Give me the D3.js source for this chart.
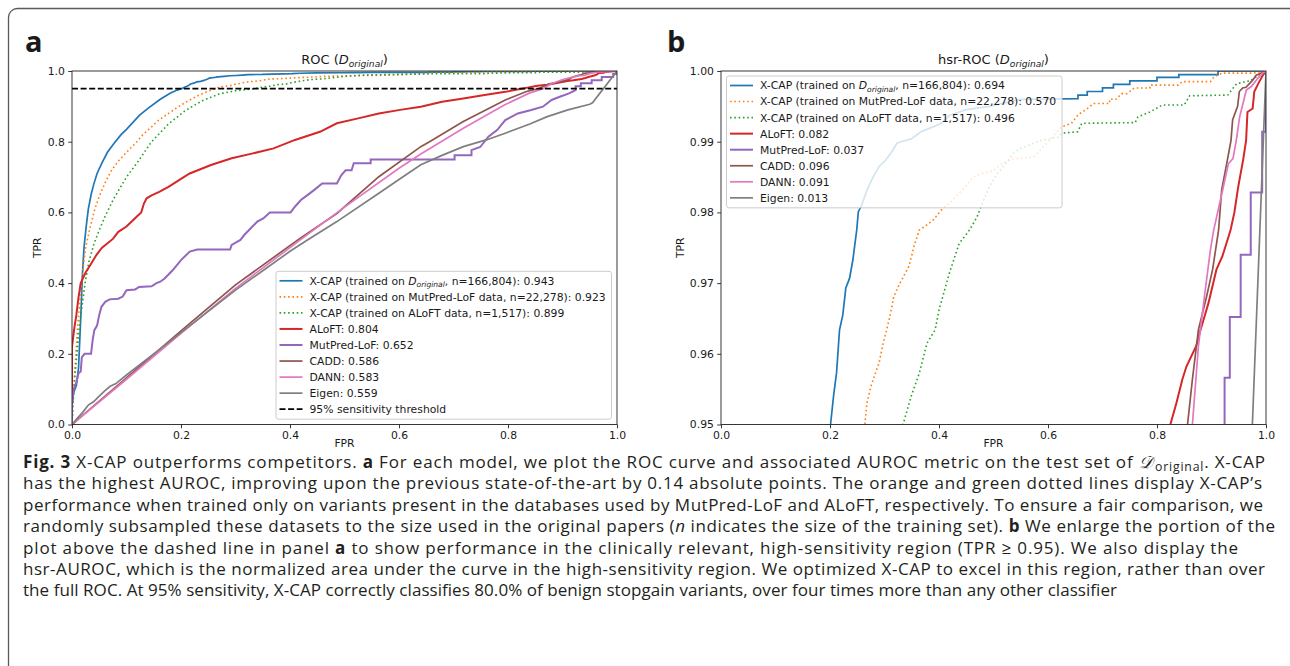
<!DOCTYPE html>
<html>
<head>
<meta charset="utf-8">
<script src="https://cdn.jsdelivr.net/npm/d3@7"></script>
<style>
  body { margin: 0; background: #fff; }
  svg text { font-family: "DejaVu Sans", sans-serif; fill: #1a1a1a; }
  svg text.cap { font-family: "Open Sans", "Noto Sans", sans-serif; fill: #231f20; }
</style>
</head>
<body>
<svg id="fig" width="1290" height="666"></svg>
<script>
// ROC points [FPR, TPR] (upper part)
const xcapOrig = [[0,0],[0,0.05],[0.003,0.09],[0.008,0.11],[0.012,0.16],[0.016,0.3],[0.019,0.42],[0.022,0.5],[0.026,0.56],[0.03,0.61],[0.035,0.65],[0.04,0.68],[0.046,0.71],[0.055,0.74],[0.065,0.77],[0.077,0.795],[0.09,0.82],[0.1,0.835],[0.124,0.875],[0.14,0.895],[0.162,0.92],[0.18,0.937],[0.193,0.946],
  [0.201,0.95],[0.2065,0.954],[0.212,0.9573],[0.2175,0.9634],[0.2235,0.9655],[0.229,0.9693],[0.236,0.9707],[0.242,0.9733],[0.249,0.9775],[0.252,0.9801],[0.258,0.981],[0.268,0.9832],[0.279,0.985],[0.29,0.9865],[0.301,0.9873],[0.312,0.9884],[0.323,0.9898],[0.33,0.99],[0.349,0.9904],[0.367,0.9914],[0.389,0.9921],[0.404,0.9926],[0.419,0.9937],[0.448,0.9945],[0.492,0.995],[0.515,0.9954],[0.551,0.996],[0.655,0.9961],[0.655,0.9966],[0.672,0.9966],[0.672,0.9971],[0.7,0.9971],[0.7,0.9976],[0.72,0.9976],[0.72,0.9981],[0.75,0.9981],[0.75,0.9986],[0.8,0.9986],[0.8,0.9991],[0.84,0.9991],[0.84,0.9995],[0.912,0.9995],[0.912,1],[1,1]];
const xcapMutPred = [[0,0],[0.001,0.04],[0.003,0.1],[0.006,0.17],[0.01,0.27],[0.015,0.36],[0.02,0.44],[0.025,0.5],[0.032,0.55],[0.042,0.61],[0.05,0.645],[0.061,0.685],[0.072,0.718],[0.085,0.745],[0.1,0.77],[0.116,0.795],[0.13,0.82],[0.146,0.842],[0.16,0.862],[0.177,0.88],[0.196,0.9],[0.216,0.918],[0.235,0.933],[0.25,0.943],
  [0.264,0.95],[0.2677,0.953],[0.275,0.9554],[0.29,0.9587],[0.297,0.9613],[0.31,0.9653],[0.317,0.9681],[0.327,0.9698],[0.345,0.9724],[0.354,0.9752],[0.364,0.9775],[0.374,0.978],[0.389,0.9789],[0.404,0.9803],[0.419,0.9813],[0.448,0.9836],[0.463,0.985],[0.478,0.9855],[0.5,0.9859],[0.515,0.9869],[0.537,0.9876],[0.573,0.9878],[0.603,0.9902],[0.614,0.9912],[0.625,0.9921],[0.643,0.9926],[0.655,0.9938],[0.669,0.9945],[0.684,0.9954],[0.713,0.9954],[0.713,0.996],[0.725,0.996],[0.735,0.9968],[0.745,0.9968],[0.758,0.9976],[0.787,0.9976],[0.787,0.998],[0.839,0.998],[0.846,0.9985],[0.898,0.9985],[0.905,0.9992],[0.92,0.9997],[0.975,0.9997],[1,1]];
const xcapAloft = [[0,0],[0.002,0.06],[0.005,0.13],[0.009,0.2],[0.013,0.27],[0.018,0.33],[0.024,0.4],[0.031,0.46],[0.04,0.51],[0.05,0.55],[0.061,0.59],[0.077,0.64],[0.1,0.7],[0.123,0.748],[0.146,0.8],[0.177,0.85],[0.208,0.888],[0.239,0.916],[0.27,0.935],[0.3,0.944],
  [0.334,0.95],[0.349,0.954],[0.364,0.9573],[0.378,0.9615],[0.393,0.9634],[0.4,0.9662],[0.419,0.9714],[0.437,0.9756],[0.456,0.9775],[0.47,0.9794],[0.478,0.981],[0.492,0.9836],[0.507,0.9855],[0.522,0.9869],[0.537,0.9884],[0.551,0.9891],[0.588,0.9902],[0.618,0.9906],[0.625,0.9912],[0.6545,0.9914],[0.662,0.9926],[0.76,0.9927],[0.765,0.9935],[0.787,0.9942],[0.81,0.9952],[0.85,0.9952],[0.86,0.9965],[0.93,0.9966],[0.946,0.9982],[0.97,0.9986],[0.985,0.9993],[1,1]];
const aloft = [[0,0],[0,0.22],[0.004,0.27],[0.008,0.31],[0.012,0.36],[0.016,0.4],[0.025,0.43],[0.035,0.455],[0.045,0.48],[0.055,0.5],[0.063,0.51],[0.075,0.525],[0.085,0.545],[0.1,0.56],[0.11,0.575],[0.12,0.59],[0.127,0.6],[0.132,0.625],[0.137,0.64],[0.146,0.648],[0.16,0.658],[0.177,0.672],[0.2,0.695],[0.216,0.71],[0.255,0.734],[0.293,0.753],[0.332,0.767],[0.37,0.781],[0.409,0.805],[0.455,0.828],[0.486,0.852],[0.525,0.866],[0.563,0.88],[0.602,0.89],[0.64,0.899],[0.679,0.913],[0.718,0.922],[0.757,0.932],[0.795,0.941],
  [0.8245,0.95],[0.8355,0.953],[0.8466,0.9564],[0.854,0.9582],[0.872,0.9611],[0.88,0.9634],[0.8945,0.9672],[0.909,0.9719],[0.92,0.9738],[0.935,0.9775],[0.942,0.98],[0.949,0.9836],[0.953,0.9853],[0.958,0.9874],[0.9635,0.9902],[0.966,0.9942],[0.9755,0.9947],[0.9786,0.9971],[0.9877,0.9985],[0.995,0.9995],[1,1]];
const mutPredLof = [[0,0],[0,0.06],[0.003,0.1],[0.008,0.12],[0.012,0.145],[0.016,0.15],[0.018,0.19],[0.023,0.2],[0.035,0.2],[0.038,0.24],[0.041,0.267],[0.046,0.28],[0.05,0.31],[0.054,0.333],[0.061,0.347],[0.069,0.354],[0.085,0.356],[0.093,0.362],[0.1,0.38],[0.116,0.382],[0.123,0.389],[0.146,0.391],[0.155,0.4],[0.162,0.404],[0.17,0.413],[0.185,0.437],[0.2,0.465],[0.216,0.489],[0.23,0.495],[0.29,0.495],[0.293,0.508],[0.309,0.522],[0.316,0.536],[0.328,0.555],[0.34,0.574],[0.351,0.583],[0.363,0.6],[0.401,0.6],[0.409,0.616],[0.42,0.635],[0.432,0.649],[0.444,0.663],[0.459,0.682],[0.486,0.682],[0.494,0.705],[0.502,0.719],[0.513,0.719],[0.517,0.739],[0.548,0.739],[0.548,0.75],[0.702,0.75],[0.702,0.762],[0.733,0.762],[0.733,0.776],[0.749,0.785],[0.764,0.814],[0.78,0.833],[0.795,0.861],[0.818,0.88],[0.841,0.889],[0.864,0.899],[0.88,0.918],[0.895,0.927],[0.911,0.936],[0.924,0.946],
  [0.924,0.9566],[0.9336,0.9566],[0.9336,0.9652],[0.9535,0.9652],[0.9535,0.974],[0.972,0.974],[0.972,0.9828],[0.993,0.9828],[0.993,0.9914],[1,0.9914],[1,1]];
const cadd = [[0,0],[0.05,0.066],[0.1,0.132],[0.2,0.265],[0.3,0.395],[0.417,0.525],[0.486,0.597],[0.563,0.701],[0.64,0.786],[0.656,0.8],[0.718,0.857],[0.795,0.918],[0.834,0.942],
  [0.856,0.95],[0.865,0.9564],[0.876,0.9634],[0.891,0.9681],[0.902,0.9719],[0.913,0.9775],[0.9187,0.9832],[0.9279,0.9869],[0.9358,0.9902],[0.9388,0.9931],[0.9479,0.995],[0.9511,0.9971],[0.9572,0.9976],[0.9633,0.9977],[0.9755,0.9987],[0.982,0.9994],[0.994,0.9998],[1,1]];
const dann = [[0,0],[0.1,0.128],[0.2,0.258],[0.3,0.385],[0.417,0.52],[0.5,0.615],[0.6,0.725],[0.64,0.765],[0.718,0.838],[0.795,0.905],[0.84,0.938],
  [0.865,0.95],[0.876,0.9611],[0.887,0.9681],[0.898,0.9747],[0.904,0.9775],[0.9206,0.9832],[0.931,0.9869],[0.9394,0.9876],[0.9455,0.9902],[0.9516,0.9935],[0.9578,0.9954],[0.9639,0.9973],[0.9731,0.9978],[0.9853,0.999],[0.994,0.9997],[1,1]];
const eigen = [[0,0],[0.01,0.018],[0.02,0.035],[0.03,0.055],[0.04,0.065],[0.05,0.08],[0.06,0.095],[0.07,0.108],[0.08,0.115],[0.1,0.14],[0.15,0.2],[0.2,0.26],[0.25,0.32],[0.3,0.38],[0.35,0.435],[0.4,0.49],[0.432,0.522],[0.486,0.574],[0.563,0.654],[0.602,0.695],[0.64,0.735],[0.68,0.762],[0.718,0.786],[0.76,0.805],[0.795,0.824],[0.84,0.85],[0.872,0.871],[0.91,0.89],[0.95,0.906],[0.955,0.91],[1,1]];

const modelNames = ["X-CAP (trained on $D$, n=166,804)", "X-CAP (trained on MutPred-LoF data, n=22,278)", "X-CAP (trained on ALoFT data, n=1,517)", "ALoFT", "MutPred-LoF", "CADD", "DANN", "Eigen"];
const aurocFull = [0.943, 0.923, 0.899, 0.804, 0.652, 0.586, 0.583, 0.559];
const aurocHsr = [0.694, 0.570, 0.496, 0.082, 0.037, 0.096, 0.091, 0.013];
const thresholdTpr = 0.95;
const thresholdLabel = "95% sensitivity threshold";

const xTicks = [0, 0.2, 0.4, 0.6, 0.8, 1.0];
const yTicksFull = [0, 0.2, 0.4, 0.6, 0.8, 1.0];
const yTicksHsr = [0.95, 0.96, 0.97, 0.98, 0.99, 1.00];

const captionLines = [
  "**Fig. 3** X-CAP outperforms competitors. **a** For each model, we plot the ROC curve and associated AUROC metric on the test set of {D}. X-CAP",
  "has the highest AUROC, improving upon the previous state-of-the-art by 0.14 absolute points. The orange and green dotted lines display X-CAP\u2019s",
  "performance when trained only on variants present in the databases used by MutPred-LoF and ALoFT, respectively. To ensure a fair comparison, we",
  "randomly subsampled these datasets to the size used in the original papers (_n_ indicates the size of the training set). **b** We enlarge the portion of the",
  "plot above the dashed line in panel **a** to show performance in the clinically relevant, high-sensitivity region (TPR \u2265 0.95). We also display the",
  "hsr-AUROC, which is the normalized area under the curve in the high-sensitivity region. We optimized X-CAP to excel in this region, rather than over",
  "the full ROC. At 95% sensitivity, X-CAP correctly classifies 80.0% of benign stopgain variants, over four times more than any other classifier"
];
// right end of each caption line in the figure
const captionLineEnds = [1265, 1262, 1263, 1275, 1238, 1265, 1117];

// ---- styles
const series = [xcapOrig, xcapMutPred, xcapAloft, aloft, mutPredLof, cadd, dann, eigen];
const colors = ["#1f77b4", "#ff7f0e", "#2ca02c", "#d62728", "#9467bd", "#8c564b", "#e377c2", "#7f7f7f"];
const dashes = [null, "1.6,2.7", "1.6,2.7", null, null, null, null, null];
const widths = [1.7, 1.6, 1.6, 2, 2, 1.7, 1.7, 1.7];
const fs = 10.8;

const svg = d3.select("#fig");

// frame of the figure box
svg.append("path")
  .attr("d", "M8.5,670 V17.5 A9,9 0 0 1 17.5,8.5 H1295")
  .attr("fill", "none").attr("stroke", "#5a5a5a").attr("stroke-width", 1.3);

// panel letters
svg.append("text").attr("x", 25).attr("y", 52).attr("font-size", 29).attr("font-weight", 700)
  .style("font-family", "'Open Sans', sans-serif").text("a");
svg.append("text").attr("x", 667).attr("y", 52).attr("font-size", 29).attr("font-weight", 700)
  .style("font-family", "'Open Sans', sans-serif").text("b");

// text with italic D_original
const richText = (sel, str, size) => {
  const bits = str.split("$D$");
  sel.append("tspan").text(bits[0]);
  if (bits.length > 1) {
    sel.append("tspan").attr("font-style", "italic").text("D");
    sel.append("tspan").attr("font-style", "italic").attr("font-size", size * 0.7).attr("dy", size * 0.22).text("original");
    sel.append("tspan").attr("dy", -size * 0.22).text(bits[1]);
  }
};

const styleLine = (sel, i) => {
  sel.attr("fill", "none").attr("stroke", colors[i]).attr("stroke-width", widths[i]);
  if (dashes[i]) sel.attr("stroke-dasharray", dashes[i]);
};

const renderPanel = opt => {
  const g = svg.append("g").attr("transform", `translate(${opt.left},${opt.top})`);
  const xScale = d3.scaleLinear().domain([0, 1]).range([0, opt.width]);
  const yScale = d3.scaleLinear().domain(opt.yDomain).range([opt.height, 0]);

  const clipId = "clip-" + opt.key;
  g.append("clipPath").attr("id", clipId)
    .append("rect").attr("width", opt.width).attr("height", opt.height);

  const lineGen = d3.line().x(d => xScale(d[0])).y(d => yScale(d[1]));
  const plot = g.append("g").attr("clip-path", `url(#${clipId})`);
  series.forEach((s, i) => {
    plot.append("path").attr("d", lineGen(s)).call(styleLine, i);
  });
  if (opt.threshold) {
    plot.append("path").attr("d", lineGen([[0, thresholdTpr], [1, thresholdTpr]]))
      .attr("fill", "none").attr("stroke", "#000").attr("stroke-width", 1.7).attr("stroke-dasharray", "6,2.6");
  }

  // axes
  const xAxisG = g.append("g").attr("transform", `translate(0,${opt.height})`)
    .call(d3.axisBottom(xScale).tickValues(xTicks).tickFormat(d3.format(".1f")).tickSize(3.8).tickPadding(3.3));
  const yAxisG = g.append("g")
    .call(d3.axisLeft(yScale).tickValues(opt.yTicks).tickFormat(d3.format(opt.yFormat)).tickSize(3.8).tickPadding(3.3));
  [xAxisG, yAxisG].forEach(a => {
    a.select(".domain").remove();
    a.selectAll(".tick line").attr("stroke", "#222").attr("stroke-width", 0.9);
    a.selectAll(".tick text").attr("font-size", fs).attr("fill", "#1a1a1a").style("font-family", "'DejaVu Sans', sans-serif");
  });

  // spines
  g.append("rect").attr("width", opt.width).attr("height", opt.height)
    .attr("fill", "none").attr("stroke", "#222").attr("stroke-width", 0.9);

  // title and axis labels
  g.append("text").attr("x", opt.width / 2).attr("y", -7).attr("text-anchor", "middle")
    .attr("font-size", 13).call(richText, opt.title, 13);
  g.append("text").attr("x", opt.width / 2).attr("y", opt.height + 22).attr("text-anchor", "middle")
    .attr("font-size", fs).text("FPR");
  g.append("text").attr("transform", `translate(${opt.ylabelX},${opt.height / 2}) rotate(-90)`)
    .attr("text-anchor", "middle").attr("font-size", fs).text("TPR");

  // legend
  const rowH = 16.05;
  const entries = modelNames.map((n, i) => ({ label: n + ": " + opt.scores[i].toFixed(3), i }));
  if (opt.threshold) entries.push({ label: thresholdLabel, i: -1 });
  const boxW = 335.5;
  const boxH = (entries.length - 1) * rowH + 19.5;
  const bx = opt.legendAt === "lowerright" ? opt.width - 5.5 - boxW : 5.5;
  const by = opt.legendAt === "lowerright" ? opt.height - 5.3 - boxH : 5;
  const lg = g.append("g").attr("transform", `translate(${bx},${by})`);
  lg.append("rect").attr("width", boxW).attr("height", boxH).attr("rx", 2.5)
    .attr("fill", "#fff").attr("fill-opacity", 0.8).attr("stroke", "#cccccc").attr("stroke-width", 1);
  entries.forEach((e, k) => {
    const cy = 9.5 + k * rowH;
    const ln = lg.append("line").attr("x1", 3.5).attr("x2", 26.5).attr("y1", cy).attr("y2", cy);
    if (e.i >= 0) ln.call(styleLine, e.i);
    else ln.attr("stroke", "#000").attr("stroke-width", 1.7).attr("stroke-dasharray", "6,2.6");
    lg.append("text").attr("x", 33.5).attr("y", cy + 3.9).attr("font-size", fs).call(richText, e.label, fs);
  });
};

renderPanel({ key: "a", left: 72, top: 71, width: 545, height: 353.5, yDomain: [0, 1], yTicks: yTicksFull, yFormat: ".1f",
  title: "ROC ($D$)", scores: aurocFull, threshold: true, legendAt: "lowerright", ylabelX: -31 });
renderPanel({ key: "b", left: 721, top: 71, width: 545, height: 353.5, yDomain: [0.95, 1], yTicks: yTicksHsr, yFormat: ".2f",
  title: "hsr-ROC ($D$)", scores: aurocHsr, threshold: false, legendAt: "upperleft", ylabelX: -37 });

// caption
const capX = 23;
const capG = svg.append("g");
const capTexts = captionLines.map((line, k) => {
  const t = capG.append("text").attr("class", "cap").attr("x", capX).attr("y", 468 + k * 21.4).attr("font-size", 16);
  let afterSub = false;
  line.split(/(\*\*[^*]+\*\*|_[^_]+_|\{D\})/).filter(s => s.length).forEach(part => {
    let ts;
    if (part.startsWith("**")) ts = t.append("tspan").attr("font-weight", 700).text(part.slice(2, -2));
    else if (part === "{D}") {
      t.append("tspan").style("font-family", "'DejaVu Serif', serif").attr("font-style", "italic").text("\uD835\uDC9F");
      t.append("tspan").attr("class", "sub").attr("dx", 1.5).text("original");
      afterSub = true;
      return;
    } else if (part.startsWith("_")) ts = t.append("tspan").attr("font-style", "italic").text(part.slice(1, -1));
    else ts = t.append("tspan").text(part);
    if (afterSub) { ts.attr("class", "after-sub"); afterSub = false; }
  });
  return t;
});
// common font size so that no line needs squeezing, then exact line length by spacing
const ratios = capTexts.map((t, k) => (captionLineEnds[k] - capX) / t.node().getComputedTextLength());
const capSize = 16 * d3.min(ratios) * 0.995;
capG.selectAll("text.cap").attr("font-size", capSize);
capG.selectAll("tspan.sub").attr("font-size", capSize * 0.72).attr("dy", capSize * 0.2);
capG.selectAll("tspan.after-sub").attr("dy", -capSize * 0.2);
capTexts.forEach((t, k) => {
  t.attr("textLength", captionLineEnds[k] - capX).attr("lengthAdjust", "spacing");
});
</script>
</body>
</html>
